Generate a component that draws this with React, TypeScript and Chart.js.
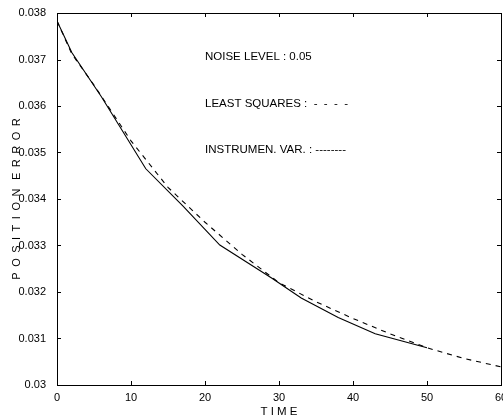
import React, { useEffect, useRef } from "react";
import { Chart, registerables } from "chart.js";

Chart.register(...registerables);

// Time samples and values
const timeLeastSquares = [0, 2, 5, 10, 15, 20, 25, 30, 35, 40, 45, 50, 55, 60];
const leastSquares = [0.03783, 0.03712, 0.03645, 0.03525, 0.03425, 0.0335, 0.03281, 0.0322, 0.03179, 0.03143, 0.0311, 0.0308, 0.03057, 0.03039];

const timeInstrumental = [0, 2, 6, 12, 17, 22, 29, 33, 38, 43, 50];
const instrumentalVar = [0.03783, 0.03715, 0.0362, 0.03465, 0.03385, 0.03301, 0.0323, 0.03187, 0.03145, 0.0311, 0.0308];

const xTickValues = [0, 10, 20, 30, 40, 50, 60];
const yTickValues = [0.03, 0.031, 0.032, 0.033, 0.034, 0.035, 0.036, 0.037, 0.038];

const annotationLines = [
  "NOISE LEVEL : 0.05",
  "LEAST SQUARES :  -  -  -  -",
  "INSTRUMEN. VAR. : --------",
];

const FONT = "'Liberation Sans', Arial, Helvetica, sans-serif";
const EN = "\u2002";

const framePlugin = {
  id: "frameTicks",
  afterDraw(chart: any) {
    const { ctx, chartArea } = chart;
    const { left, right, top, bottom } = chartArea;
    const xs = chart.scales.x;
    const ys = chart.scales.y;
    const len = 4;
    ctx.save();
    ctx.strokeStyle = "#000";
    ctx.lineWidth = 1;
    ctx.strokeRect(Math.round(left) + 0.5, Math.round(top) + 0.5, Math.round(right - left), Math.round(bottom - top));
    ctx.beginPath();
    xTickValues.forEach((v) => {
      const px = Math.round(xs.getPixelForValue(v)) + 0.5;
      ctx.moveTo(px, bottom);
      ctx.lineTo(px, bottom - len);
      ctx.moveTo(px, top);
      ctx.lineTo(px, top + len);
    });
    yTickValues.forEach((v) => {
      const py = Math.round(ys.getPixelForValue(v)) + 0.5;
      ctx.moveTo(left, py);
      ctx.lineTo(left + len, py);
      ctx.moveTo(right, py);
      ctx.lineTo(right - len, py);
    });
    ctx.stroke();

    // annotation text
    ctx.fillStyle = "#000";
    ctx.font = `11.5px ${FONT}`;
    ctx.textBaseline = "middle";
    ctx.textAlign = "left";
    const tx = xs.getPixelForValue(20);
    const rows = [57, 104, 150];
    annotationLines.forEach((t, i) => {
      ctx.fillText(t, tx, rows[i]);
    });
    ctx.restore();
  },
};

export default function App() {
  const ref = useRef<HTMLCanvasElement | null>(null);
  useEffect(() => {
    if (!ref.current) return;
    const chart = new Chart(ref.current, {
      type: "line",
      data: {
        datasets: [
          {
            label: "Least squares",
            data: timeLeastSquares.map((t, i) => ({ x: t, y: leastSquares[i] })),
            borderColor: "#000",
            borderWidth: 1.1,
            borderDash: [5, 5],
            pointRadius: 0,
            tension: 0,
            fill: false,
          },
          {
            label: "Instrumental var.",
            data: timeInstrumental.map((t, i) => ({ x: t, y: instrumentalVar[i] })),
            borderColor: "#000",
            borderWidth: 1.1,
            pointRadius: 0,
            tension: 0,
            fill: false,
          },
        ],
      },
      options: {
        responsive: false,
        animation: false,
        layout: { padding: { top: 13, right: 2, left: 0, bottom: 0 } },
        plugins: {
          legend: { display: false },
          tooltip: { enabled: false },
        },
        scales: {
          x: {
            type: "linear",
            min: 0,
            max: 60,
            afterBuildTicks: (scale: any) => {
              scale.ticks = xTickValues.map((v) => ({ value: v }));
            },
            grid: { display: false },
            border: { display: false },
            ticks: {
              color: "#000",
              padding: -2,
              maxRotation: 0,
              autoSkip: false,
              font: { family: FONT, size: 11 },
              callback: (v: any) => String(v),
            },
            title: {
              display: true,
              text: "T I M E",
              color: "#000",
              font: { family: FONT, size: 11.5 },
              padding: { top: 0, bottom: 1 },
            },
            afterFit: (scale: any) => {
              scale.height = 35;
              scale.paddingRight = 0;
              scale.paddingLeft = 0;
            },
          },
          y: {
            type: "linear",
            min: 0.03,
            max: 0.038,
            afterBuildTicks: (scale: any) => {
              scale.ticks = yTickValues.map((v) => ({ value: v }));
            },
            grid: { display: false },
            border: { display: false },
            ticks: {
              color: "#000",
              padding: 3,
              autoSkip: false,
              font: { family: FONT, size: 11 },
              callback: (v: any) => String(Number(Number(v).toFixed(3))),
            },
            title: {
              display: true,
              text: ["P", "O", "S", "I", "T", "I", "O", "N"].join(EN) + EN + " " + ["E", "R", "R", "O", "R"].join(EN),
              color: "#000",
              font: { family: FONT, size: 11 },
              padding: { top: 10, bottom: 0 },
            },
            afterFit: (scale: any) => {
              scale.width = 57;
            },
          },
        },
      },
      plugins: [framePlugin],
    });
    return () => chart.destroy();
  }, []);
  return (
    <div style={{ position: "absolute", left: 0, top: 0, width: 503, height: 420, background: "#fff" }}>
      <canvas ref={ref} width={503} height={420} style={{ display: "block" }} />
    </div>
  );
}
